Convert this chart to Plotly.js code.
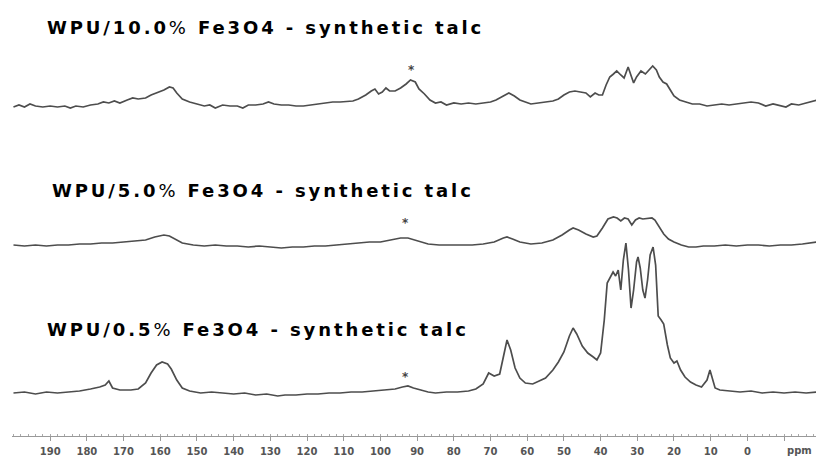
<!DOCTYPE html>
<html>
<head>
<meta charset="utf-8">
<script src="https://cdn.plot.ly/plotly-3.0.1.min.js"></script>
<style>html,body{margin:0;padding:0;background:#fff;}#chart{width:816px;height:458px;}</style>
</head>
<body>
<div id="chart"></div>
<script>
// Sample labels
var sampleLabels = ["WPU/0.5% Fe3O4 - synthetic talc", "WPU/5.0% Fe3O4 - synthetic talc", "WPU/10.0% Fe3O4 - synthetic talc"];

// Chemical shift (ppm) and intensity, WPU/0.5% Fe3O4
var ppm05 = [200,197,194,191,188,185,182,179,176.5,175,174,173,171,168,166,164,162.5,161,159.5,158,157,155.5,154,152,149,146,143,140,137,134,131,128,126,123,120,117,114,111,108,105,102,99,96,94,92.5,91,89,87,85,82,79,76,74,72,70.5,69,67.5,66.5,65.5,64.5,63.3,62,60.5,58.5,56.5,55,53,51.5,50,48.5,47.5,46.5,45,43.5,42,41,40,39,38.2,37.2,36.6,35.9,35.2,34.5,33.8,33.1,32.4,31.7,31,30.2,29.8,29.2,28.5,27.9,27.2,26.5,25.7,25,24.3,23.5,22.8,21.8,21,20,19.2,18.2,17,15.5,14,12.5,11,10.2,9.5,8.8,7.5,5,2,-1,-4,-7,-10,-13,-16,-19];
var int05 = [0,1,-1,1,0,1,2,4,6,8,12,5,3,3,4,10,20,28,31,29,24,13,5,2,0,1,0,-1,0,-2,-1,-3,-2,-2,-1,-1,0,0,1,1,2,3,4,6,7,5,3,1,0,1,1,2,4,9,20,17,19,35,53,43,25,15,10,9,12,15,23,31,41,57,65,59,47,40,36,33,40,73,110,117,121,117,123,103,133,150,123,85,103,131,136,125,103,95,113,138,146,128,77,73,69,48,35,30,32,23,16,11,8,6,13,23,15,5,3,2,1,2,0,1,0,1,0,1];

// WPU/5.0% Fe3O4
var ppm50 = [200,197,194,191,188,185,182,179,176,173,170,167,164,161.5,159,157.5,156,154,151,148,145,142,139,136,133,130,127,124,121,118,115,112,109,106,103,100,97,94.5,92.5,90,87,84,81,78,75,72,69,66.5,65.5,64,62,59,56,53,50.5,48.5,47.5,46,44,42,41,39.5,38,36.5,35.5,34.5,33.5,32.5,31.5,30.5,29.5,28.5,27,26,25.2,24,22.8,21.5,20,18,16,14,12,9,6,3,0,-3,-6,-9,-12,-15,-17,-19];
var int50 = [0,-1,0,-1,0,0,1,1,2,2,3,4,5,8,10,9,6,2,0,-1,0,-1,-1,-2,-1,-2,-3,-2,-2,-1,-1,0,1,2,3,3,5,7,7,4,1,0,0,0,0,1,3,7,8,6,3,1,2,5,10,15,17,15,11,8,9,17,26,28,27,24,27,26,20,25,27,26,27,27,25,18,11,6,3,0,-2,-2,-1,-1,0,-1,0,0,-1,0,0,1,2,3];

// WPU/10.0% Fe3O4
var ppm100 = [200,198.5,197,195.5,194,192,190,188,186,184.5,183,181,179,177,175.5,174,172.5,171,169,167.5,166,164,162.5,161,159,157.5,156.5,155.5,154,152,150,148,146.5,145,143,141,139,137.5,136,134,132,130.5,129,127,125,123,121,119,117,115,113,111,109,107.5,106,104,102.5,101.5,100.5,99.5,98.5,97.5,96,94.5,93,91.8,90.5,89.5,88,86.5,85,83.5,82,80,78,76,74,72,70,68.5,66.5,65,63.5,62,60.5,59,57,55,53,51.5,50,48.5,47,45.5,44,42.8,41.5,40.5,39.5,38.5,37.5,36.5,35.6,34.5,33.6,32.5,31.8,31,30.2,29,27.8,26.8,25.8,24.8,24,23,22,21,20,18.5,17,15,13,11,9,7,5,3,1,-1,-3,-5,-7,-9,-10.5,-12,-14,-16,-18,-19];
var int100 = [0,2,0,3,1,0,1,0,1,-1,1,0,2,3,5,4,6,4,7,9,8,9,12,14,17,20,19,14,8,5,3,1,2,-1,2,1,1,-1,2,2,3,5,3,2,2,1,1,2,3,4,5,5,6,6,8,12,16,18,13,15,19,16,16,19,23,27,25,18,13,7,4,5,2,4,3,4,3,4,5,7,11,14,11,7,5,3,4,5,6,8,12,15,16,15,14,10,14,12,12,22,30,33,36,32,29,40,33,24,30,36,33,37,41,37,30,25,23,17,11,7,5,3,3,1,2,3,2,3,4,5,4,1,3,1,0,3,2,4,6,7];

// Axis tick labels
var tickPpm = [190,180,170,160,150,140,130,120,110,100,90,80,70,60,50,40,30,20,10,0,-10];
var tickText = ["190","180","170","160","150","140","130","120","110","100","90","80","70","60","50","40","30","20","10","0",""];
var unitLabel = "ppm";
var markerText = "*";
var markerPpm = [93.3, 93.3, 91.4];

var lineStyle = {color: "#4d4d4d", width: 1.7};
var traces = [
  {x: ppm05, y: int05, yaxis: "y", type: "scatter", mode: "lines", line: lineStyle, hoverinfo: "skip"},
  {x: ppm50, y: int50, yaxis: "y2", type: "scatter", mode: "lines", line: lineStyle, hoverinfo: "skip"},
  {x: ppm100, y: int100, yaxis: "y3", type: "scatter", mode: "lines", line: lineStyle, hoverinfo: "skip"}
];

function boldLabel(s) {
  var i = s.indexOf("%");
  return "<span style=\"letter-spacing:2.9px\"><b>" + s.slice(0, i) + "</b>%<b>" + s.slice(i + 1) + "</b></span>";
}

var titleFont = {family: "DejaVu Sans", size: 18, color: "#000"};
var annotations = [
  {text: boldLabel(sampleLabels[0]), xref: "paper", yref: "paper", x: 0.041, y: 0.245, xanchor: "left", yanchor: "middle", showarrow: false, font: titleFont},
  {text: boldLabel(sampleLabels[1]), xref: "paper", yref: "paper", x: 0.047, y: 0.564, xanchor: "left", yanchor: "middle", showarrow: false, font: titleFont},
  {text: boldLabel(sampleLabels[2]), xref: "paper", yref: "paper", x: 0.041, y: 0.938, xanchor: "left", yanchor: "middle", showarrow: false, font: titleFont},
  {text: "<b>" + unitLabel + "</b>", xref: "x", yref: "paper", x: -14.2, y: -0.034, xanchor: "center", yanchor: "middle", showarrow: false, font: {family: "DejaVu Sans", size: 10, color: "#555"}}
];
var markerY = [0.135, 0.4885, 0.8394];
for (var k = 0; k < 3; k++) {
  annotations.push({text: "<b>" + markerText + "</b>", xref: "x", yref: "paper", x: markerPpm[k], y: markerY[k], xanchor: "center", yanchor: "middle", showarrow: false, font: {family: "DejaVu Sans", size: 12, color: "#444"}});
}

var hiddenY = {visible: false, showgrid: false, zeroline: false, fixedrange: true};
var layout = {
  width: 816, height: 458,
  margin: {l: 12, r: 0, t: 0, b: 22},
  paper_bgcolor: "#fff", plot_bgcolor: "rgba(0,0,0,0)",
  showlegend: false,
  xaxis: {
    range: [200.4, -18.7], showgrid: false, zeroline: false,
    showline: true, linecolor: "#999", linewidth: 1,
    tickmode: "array", tickvals: tickPpm, ticktext: tickText,
    ticks: "outside", ticklen: 4, tickcolor: "#999", tickwidth: 1,
    ticklabelstandoff: 2,
    minor: {tickmode: "linear", tick0: 0, dtick: 2, ticks: "inside", ticklen: 2, tickcolor: "#aaa"},
    tickfont: {family: "DejaVu Sans", size: 10, color: "#555", weight: "bold"}
  },
  yaxis: Object.assign({domain: [0, 0.4587], range: [-43, 157]}, hiddenY),
  yaxis2: Object.assign({domain: [0.4037, 0.5413], range: [-15, 45]}, hiddenY),
  yaxis3: Object.assign({domain: [0.7133, 0.8739], range: [-18, 52]}, hiddenY),
  annotations: annotations
};

Plotly.newPlot("chart", traces, layout, {displayModeBar: false, staticPlot: true});
</script>
</body>
</html>
